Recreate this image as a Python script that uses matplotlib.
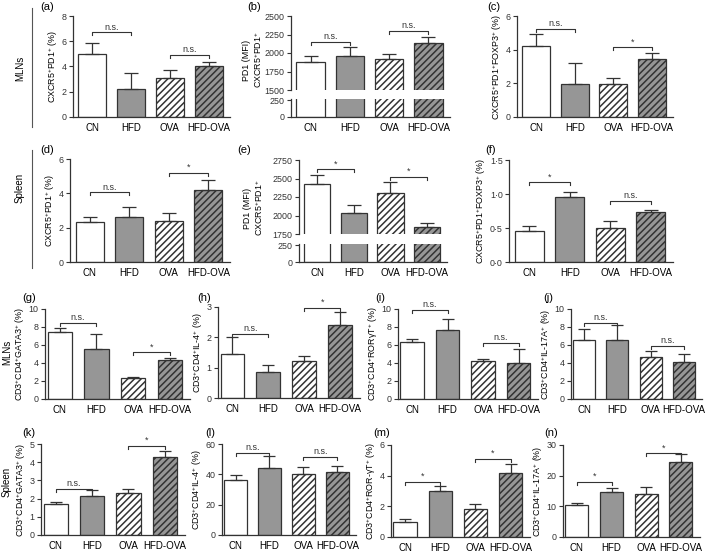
import matplotlib
matplotlib.use("Agg")
import matplotlib.pyplot as plt

plt.rcParams["font.family"] = ["Liberation Sans", "DejaVu Sans"]
plt.rcParams["mathtext.fontset"] = "custom"
plt.rcParams["mathtext.rm"] = "Liberation Sans"
plt.rcParams["mathtext.it"] = "Liberation Sans:italic"
plt.rcParams["hatch.linewidth"] = 1.1

# === Data (mean, SEM) ===
groups = ["CN", "HFD", "OVA", "HFD-OVA"]

a_mean = [5.0, 2.2, 3.1, 4.0]
a_err = [0.9, 1.3, 0.65, 0.35]
b_mean = [1880, 1960, 1925, 2135]
b_err = [80, 120, 60, 85]
c_mean = [4.2, 1.95, 1.95, 3.45]
c_err = [0.75, 1.25, 0.35, 0.38]
d_mean = [2.35, 2.65, 2.4, 4.2]
d_err = [0.25, 0.55, 0.45, 0.6]
e_mean = [2430, 2040, 2310, 1840]
e_err = [115, 100, 140, 55]
f_mean = [0.45, 0.96, 0.5, 0.74]
f_err = [0.08, 0.07, 0.1, 0.03]
g_mean = [7.5, 5.55, 2.35, 4.3]
g_err = [0.4, 1.7, 0.15, 0.3]
h_mean = [1.45, 0.85, 1.22, 2.42]
h_err = [0.57, 0.25, 0.16, 0.4]
i_mean = [6.35, 7.7, 4.25, 3.95]
i_err = [0.3, 1.15, 0.25, 1.6]
j_mean = [6.6, 6.55, 4.65, 4.1]
j_err = [1.2, 1.65, 0.7, 0.9]
k_mean = [1.7, 2.15, 2.3, 4.3]
k_err = [0.1, 0.3, 0.25, 0.3]
l_mean = [36.5, 44.0, 40.5, 41.5]
l_err = [3.0, 8.0, 4.5, 4.0]
m_mean = [0.95, 3.0, 1.8, 4.15]
m_err = [0.25, 0.3, 0.35, 0.6]
n_mean = [10.3, 14.7, 14.1, 24.5]
n_err = [0.7, 1.3, 2.1, 2.5]

# significance brackets: (height CN-HFD, label), (height OVA-HFD-OVA, label)
a_sig = [(6.7, "n.s."), (4.9, "n.s.")]
b_sig = [(2150, "n.s."), (2300, "n.s.")]
c_sig = [(5.25, "n.s."), (4.15, "*")]
d_sig = [(4.05, "n.s."), (5.2, "*")]
e_sig = [(2625, "*"), (2525, "*")]
f_sig = [(1.17, "*"), (0.9, "n.s.")]
g_sig = [(8.5, "n.s."), (5.2, "*")]
h_sig = [(2.12, "n.s."), (2.98, "*")]
i_sig = [(9.9, "n.s."), (6.25, "n.s.")]
j_sig = [(8.4, "n.s."), (5.9, "n.s.")]
k_sig = [(2.53, "n.s."), (4.9, "*")]
l_sig = [(53.9, "n.s."), (51.2, "n.s.")]
m_sig = [(3.6, "*"), (5.1, "*")]
n_sig = [(18.0, "*"), (27.3, "*")]

lab_cxcr = "CXCR5$^{+}$PD1$^{+}$ (%)"
lab_mfi = "PD1 (MFI)\nCXCR5$^{+}$PD1$^{+}$"
lab_foxp3 = "CXCR5$^{+}$PD1$^{+}$FOXP3$^{+}$ (%)"
lab_gata3 = "CD3$^{+}$CD4$^{+}$GATA3$^{+}$ (%)"
lab_il4 = "CD3$^{+}$CD4$^{+}$IL-4$^{+}$ (%)"
lab_ror = "CD3$^{+}$CD4$^{+}$RORγT$^{+}$ (%)"
lab_ror2 = "CD3$^{+}$CD4$^{+}$ROR-γT$^{+}$ (%)"
lab_il17 = "CD3$^{+}$CD4$^{+}$IL-17A$^{+}$ (%)"

W, H = 709, 552
fig = plt.figure(figsize=(W / 100, H / 100), dpi=100)

face = ["white", "#969696", "white", "#969696"]
hatches = [None, None, "/////", "/////"]
ink = "#333333"
YFS = 6.4   # y tick / label font size
XFS = 7.0   # x tick font size


def px_axes(l, t, r, b):
    return fig.add_axes([l / W, 1 - b / H, (r - l) / W, (b - t) / H])


def style(ax, xlim):
    ax.spines["top"].set_visible(False)
    ax.spines["right"].set_visible(False)
    for s in ["left", "bottom"]:
        ax.spines[s].set_color(ink)
        ax.spines[s].set_linewidth(0.9)
    ax.tick_params(axis="y", length=3, width=0.8, colors=ink, labelsize=YFS, pad=1.5)
    ax.tick_params(axis="x", length=0, labelsize=XFS, pad=4)
    ax.set_xlim(*xlim)


def bars(ax, means, width):
    for i in range(4):
        ax.bar(i, means[i], width=width, color=face[i], edgecolor=ink,
               linewidth=0.9, hatch=hatches[i])


def errs(ax, means, err, cap):
    ax.errorbar(range(4), means, yerr=[[0] * 4, err], fmt="none", ecolor=ink,
                elinewidth=0.9, capsize=cap, capthick=0.9)


def brackets(ax, sig):
    lo, hi = ax.get_ylim()
    hpx = ax.get_position().height * H
    drop = 3 * (hi - lo) / hpx
    for (x0, x1), (y, txt) in zip([(0, 1), (2, 3)], sig):
        ax.plot([x0, x0, x1, x1], [y - drop, y, y, y - drop], color=ink,
                lw=0.8, clip_on=False)
        ax.text((x0 + x1) / 2, y + drop * 0.3, txt, ha="center", va="bottom",
                fontsize=6.5, color=ink)


def panel(box, means, err, sig, ylim, yticks, ylabel, ticklabels=None,
          xlim=(-0.5, 3.55), width=0.72, cap=5):
    ax = px_axes(*box)
    style(ax, xlim)
    bars(ax, means, width)
    errs(ax, means, err, cap)
    ax.set_ylim(*ylim)
    ax.set_yticks(yticks)
    if ticklabels is not None:
        ax.set_yticklabels(ticklabels)
    ax.set_xticks(range(4))
    ax.set_xticklabels(groups)
    ax.set_ylabel(ylabel, fontsize=YFS, labelpad=1.5)
    brackets(ax, sig)
    return ax


def broken_panel(l, r, t, mid_top, mid_bot, b, means, err, sig, top_lim,
                 top_ticks, label_xy):
    ax_t = px_axes(l, t, r, mid_top)
    ax_b = px_axes(l, mid_bot, r, b)
    for ax in (ax_t, ax_b):
        style(ax, (-0.5, 3.55))
        bars(ax, means, 0.72)
    ax_t.spines["bottom"].set_visible(False)
    ax_t.set_xticks([])
    ax_t.set_ylim(*top_lim)
    ax_t.set_yticks(top_ticks)
    errs(ax_t, means, err, 5)
    ax_b.set_ylim(0, 265)
    ax_b.set_yticks([0, 250])
    ax_b.set_xticks(range(4))
    ax_b.set_xticklabels(groups)
    brackets(ax_t, sig)
    fig.text(label_xy[0] / W, 1 - label_xy[1] / H, lab_mfi, rotation=90,
             ha="center", va="center", fontsize=YFS, multialignment="center",
             linespacing=1.1)


small = dict(xlim=(-0.4, 3.55), width=0.66, cap=4)

# --- Row 1: MLNs ---
panel((73, 16, 230, 117), a_mean, a_err, a_sig, (0, 8), [0, 2, 4, 6, 8], lab_cxcr)
broken_panel(291, 450, 16, 90, 99, 117, b_mean, b_err, b_sig, (1500, 2500),
             [1500, 1750, 2000, 2250, 2500], (253, 60))
panel((517, 16, 673, 117), c_mean, c_err, c_sig, (0, 6), [0, 2, 4, 6], lab_foxp3)

# --- Row 2: Spleen ---
panel((70, 159, 230, 262), d_mean, d_err, d_sig, (0, 6), [0, 2, 4, 6], lab_cxcr)
broken_panel(299, 447, 160, 234, 244, 262, e_mean, e_err, e_sig, (1750, 2750),
             [1750, 2000, 2250, 2500, 2750], (254, 208))
panel((509, 160, 673, 262), f_mean, f_err, f_sig, (0, 1.5), [0, 0.5, 1.0, 1.5],
      lab_foxp3, ["0·0", "0·5", "1·0", "1·5"])

# --- Row 3: MLNs ---
panel((45, 309, 190, 399), g_mean, g_err, g_sig, (0, 10), [0, 2, 4, 6, 8, 10], lab_gata3, **small)
panel((218, 307, 360, 398), h_mean, h_err, h_sig, (0, 3), [0, 1, 2, 3], lab_il4, **small)
panel((398, 309, 538, 399), i_mean, i_err, i_sig, (0, 10), [0, 2, 4, 6, 8, 10], lab_ror, **small)
panel((571, 309, 702, 399), j_mean, j_err, j_sig, (0, 10), [0, 2, 4, 6, 8, 10], lab_il17, **small)

# --- Row 4: Spleen ---
panel((41, 444, 185, 535), k_mean, k_err, k_sig, (0, 5), [0, 1, 2, 3, 4, 5], lab_gata3, **small)
panel((222, 444, 356, 535), l_mean, l_err, l_sig, (0, 60), [0, 20, 40, 60], lab_il4, **small)
panel((391, 445, 530, 537), m_mean, m_err, m_sig, (0, 6), [0, 2, 4, 6], lab_ror2, **small)
panel((563, 445, 700, 537), n_mean, n_err, n_sig, (0, 30), [0, 10, 20, 30], lab_il17, **small)

# panel letters
letters = [("(a)", 40, 7), ("(b)", 247, 7), ("(c)", 487, 7),
           ("(d)", 40, 150), ("(e)", 237, 150), ("(f)", 485, 150),
           ("(g)", 22, 298), ("(h)", 197, 298), ("(i)", 375, 298), ("(j)", 543, 298),
           ("(k)", 22, 433), ("(l)", 205, 433), ("(m)", 373, 433), ("(n)", 544, 433)]
for txt, x, y in letters:
    fig.text(x / W, 1 - y / H, txt, ha="left", va="center", fontsize=8)

# tissue labels
for txt, x, y in [("MLNs", 20, 68), ("Spleen", 20, 188), ("MLNs", 7, 352), ("Spleen", 7, 482)]:
    fig.text(x / W, 1 - y / H, txt, rotation=90, ha="center", va="center", fontsize=7)
for y0, y1 in [(8, 127), (150, 268)]:
    fig.add_artist(plt.Line2D([32 / W, 32 / W], [1 - y0 / H, 1 - y1 / H], color="#555555", lw=0.8))

fig.savefig("out.png", dpi=100)
